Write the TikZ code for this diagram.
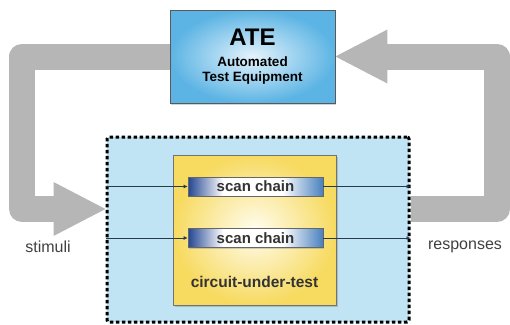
\documentclass[tikz,border=0pt]{standalone}
\usepackage{fontspec}
\setmainfont{Liberation Sans}
\usetikzlibrary{positioning}
\usetikzlibrary{arrows.meta}
\usetikzlibrary{shadows}
\usetikzlibrary{backgrounds}
\definecolor{ateedge}{RGB}{92,180,228}
\definecolor{atemid}{RGB}{228,243,252}
\definecolor{boardfill}{RGB}{192,228,244}
\definecolor{coreedge}{RGB}{247,218,96}
\definecolor{coremid}{RGB}{255,253,240}
\definecolor{chainleft}{RGB}{34,70,145}
\definecolor{chainright}{RGB}{72,128,190}
\definecolor{feedgray}{RGB}{182,182,182}
\definecolor{sigline}{RGB}{40,58,78}
\pgfdeclarehorizontalshading{chainshade}{100bp}{%
  color(0bp)=(chainleft); color(25bp)=(chainleft);
  color(38bp)=(white); color(60bp)=(white);
  color(75bp)=(chainright); color(100bp)=(chainright)}
\tikzset{%
  feed/.style = {draw=feedgray, line width=26pt, line join=round,
        -{Triangle[length=52pt,width=54pt,line width=0pt]}},
  sig/.style = {draw=sigline, line width=0.9pt,
        -{Latex[length=4pt,width=4pt]}},
  ate/.style = {rectangle, draw=black!65, line width=0.8pt,
        inner color=atemid, outer color=ateedge,
        minimum width=165pt, minimum height=93pt, align=center,
        drop shadow={shadow xshift=1pt, shadow yshift=-2pt, opacity=0.35}},
  board/.style = {rectangle, fill=boardfill, draw=black, line width=3pt,
        dash pattern=on 3.5pt off 2.5pt, rounded corners=2pt,
        minimum width=302pt, minimum height=185pt},
  core/.style = {rectangle, draw=black!55, line width=0.8pt,
        inner color=coremid, outer color=coreedge,
        minimum width=163pt, minimum height=150pt,
        drop shadow={shadow xshift=2pt, shadow yshift=-2pt, opacity=0.4}},
  chain/.style = {rectangle, draw=black!60, line width=0.6pt,
        shading=chainshade,
        minimum width=135pt, minimum height=19pt, inner sep=0pt,
        font=\fontsize{15}{15}\selectfont\bfseries, text=black!80,
        drop shadow={shadow xshift=1pt, shadow yshift=-1pt, opacity=0.35}},
  cutname/.style = {font=\fontsize{15.5}{15.5}\selectfont\bfseries, text=black!80},
  tag/.style = {font=\fontsize{16}{16}\selectfont, text=black!75}
}
\begin{document}
\begin{tikzpicture}[x=1pt,y=-1pt]
\useasboundingbox (0,0) rectangle (510,324);
\node[ate] (ate) at (252.5,56.5)
    {{\fontsize{24}{24}\selectfont\bfseries ATE}\\[9pt]
     {\fontsize{13.5}{17}\selectfont\bfseries Automated}\\[3pt]
     {\fontsize{13.5}{17}\selectfont\bfseries Test Equipment}};
\node[board] (board) at (258,229.5) {};
\node[core] (core) at (254.5,230) {};
\node[chain] (chain1) at (255.5,186.5) {scan chain};
\node[chain] (chain2) at (255.5,238) {scan chain};
\node[cutname, above=14pt of core.south] (cutname) {circuit-under-test};
\node[tag] (stimuli) at (48,247) {stimuli};
\node[tag] (responses) at (465,247) {responses};
% scan paths
\draw[sig] (board.west |- chain1) -- (chain1);
\draw[sig] (chain1) -- (board.east |- chain1);
\draw[sig] (board.west |- chain2) -- (chain2);
\draw[sig] (chain2) -- (board.east |- chain2);
% loop from and to the tester
\begin{scope}[on background layer]
\draw[feed] (ate.west) -| (22,209) -- (board.west |- 0,209);
\draw[feed] (board.east |- 0,209) -- (497,209) |- (ate.east);
\end{scope}
\end{tikzpicture}
\end{document}
